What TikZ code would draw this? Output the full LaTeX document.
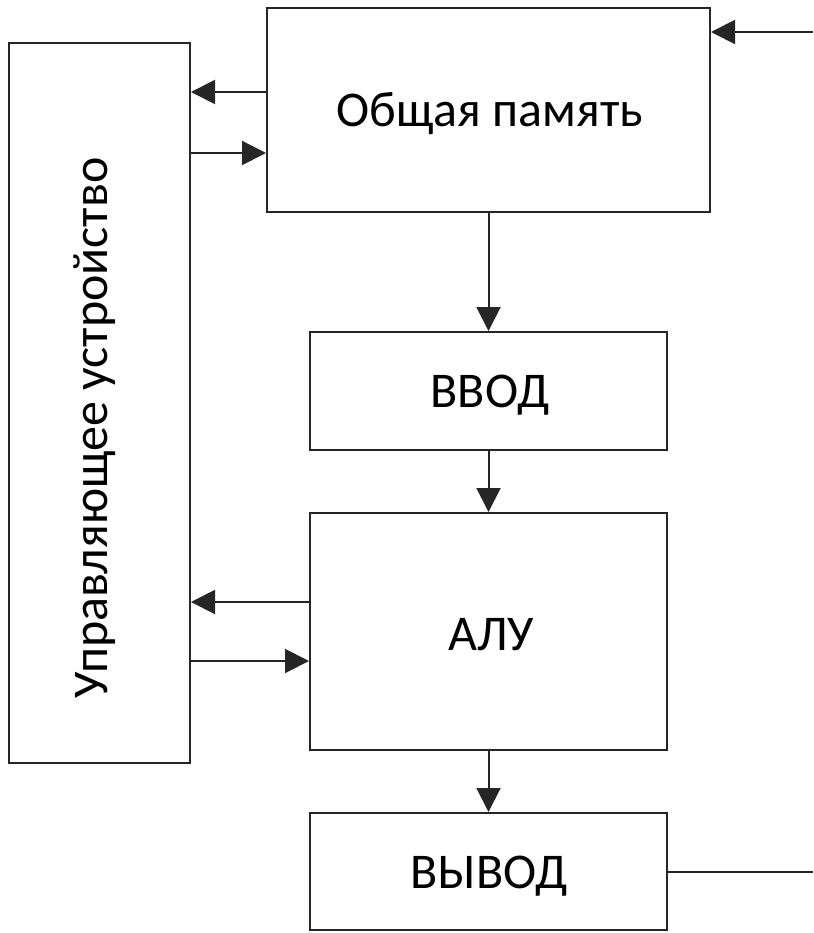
\documentclass[tikz,border=0pt]{standalone}
\usepackage{fontspec}
\setmainfont{Carlito}
\usetikzlibrary{arrows.meta}
\begin{document}
\begin{tikzpicture}[x=1pt,y=-1pt,
  blk/.style={draw=black!85,line width=2pt,inner sep=0pt},
  lbl/.style={anchor=base,inner sep=0pt,font=\fontsize{50}{56}\selectfont},
  con/.style={line width=2pt,draw=black!85,-{Triangle[length=24pt,width=24pt]}},
  plain/.style={line width=2pt,draw=black!85}]
\useasboundingbox (0,0) rectangle (813,933);
\node[blk,minimum width=181pt,minimum height=720pt] (ctl) at (99.5,403) {};
\node[blk,minimum width=443pt,minimum height=204pt] (mem) at (488.5,110) {};
\node[blk,minimum width=357pt,minimum height=118pt] (in) at (488.5,391) {};
\node[blk,minimum width=357pt,minimum height=237pt] (alu) at (488.5,631.5) {};
\node[blk,minimum width=357pt,minimum height=117pt] (out) at (488.5,871.5) {};
\node[lbl,rotate=90] (ctltext) at (107,428) {Управляющее устройство};
\node[lbl] (memtext) at (490,127) {Общая память};
\node[lbl] (intext) at (490,407) {ВВОД};
\node[lbl] (alutext) at (491,650) {АЛУ};
\node[lbl] (outtext) at (489,888) {ВЫВОД};
\coordinate (rin) at (813,32);
\coordinate (rout) at (813,872);
\draw[con] (rin) -- (rin -| mem.east);
\draw[plain] (out.east |- rout) -- (rout);
\draw[con] (mem.south) -- (in.north);
\draw[con] (in.south) -- (alu.north);
\draw[con] (alu.south) -- (out.north);
\draw[con] (mem.west |- 0,92) -- (ctl.east |- 0,92);
\draw[con] (ctl.east |- 0,153) -- (mem.west |- 0,153);
\draw[con] (alu.west |- 0,602) -- (ctl.east |- 0,602);
\draw[con] (ctl.east |- 0,661) -- (alu.west |- 0,661);
\end{tikzpicture}
\end{document}
